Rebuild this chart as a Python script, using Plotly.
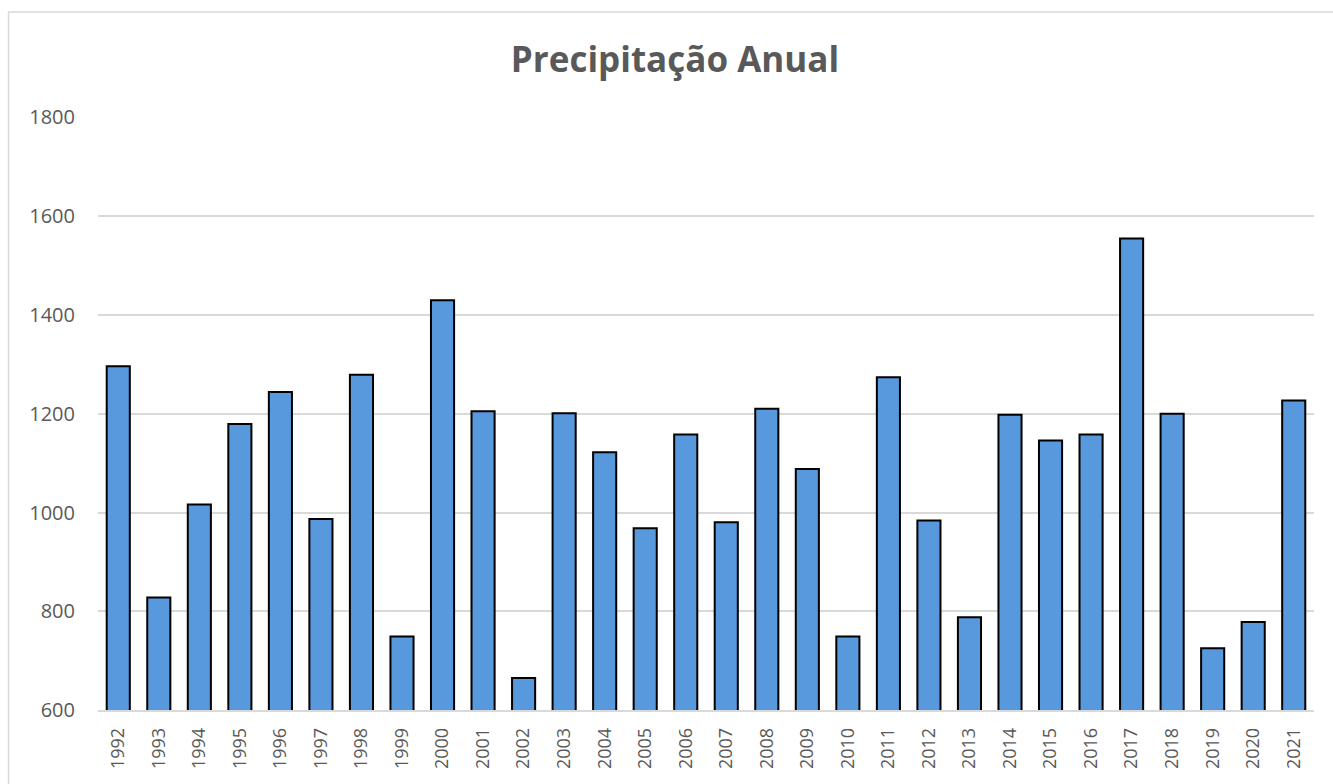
import plotly.graph_objects as go

# Annual precipitation totals (mm)
anos = [str(a) for a in range(1992, 2022)]
precipitacao = [1296, 828, 1016, 1179, 1244, 987, 1279, 749, 1430, 1205,
                665, 1201, 1122, 968, 1158, 980, 1210, 1088, 749, 1274,
                984, 788, 1198, 1146, 1158, 1555, 1200, 725, 778, 1227]
y_ticks = [600, 800, 1000, 1200, 1400, 1600, 1800]

W, H = 1333, 784
ml, mr, mt, mb = 98, 19, 117, 74
pw, ph = W - ml - mr, H - mt - mb

fig = go.Figure(go.Bar(
    x=anos,
    y=precipitacao,
    marker=dict(color="#5898dc", line=dict(color="#000000", width=2)),
    width=0.57,
))

# light frame around the chart area
fx0 = (8.5 - ml) / pw
fy1 = (H - mb - 12) / ph
fig.add_shape(type="rect", xref="paper", yref="paper",
              x0=fx0, x1=1.2, y0=-0.3, y1=fy1,
              line=dict(color="#d9d9d9", width=1.5), layer="below")

fig.update_layout(
    width=W, height=H, autosize=False,
    margin=dict(l=ml, r=mr, t=mt, b=mb),
    paper_bgcolor="white", plot_bgcolor="white",
    title=dict(text="<b>Precipitação Anual</b>", x=675 / W, xanchor="center",
               y=1 - 60 / H, yanchor="middle",
               font=dict(family="Open Sans", size=35, color="#595959")),
    font=dict(family="Open Sans", size=20, color="#595959"),
    showlegend=False,
    xaxis=dict(tickangle=-90, showgrid=False, showline=True,
               linecolor="#d9d9d9", linewidth=1.5, ticks="",
               ticklabelstandoff=9, automargin=False,
               tickfont=dict(family="Open Sans", size=18, color="#595959")),
    yaxis=dict(range=[600, 1801], tickvals=y_ticks, showgrid=True,
               gridcolor="#d9d9d9", gridwidth=1.5, zeroline=False,
               showline=False, ticks="", ticklabelstandoff=22,
               automargin=False,
               tickfont=dict(family="Open Sans", size=20, color="#595959")),
)

fig.write_html("out.html")
